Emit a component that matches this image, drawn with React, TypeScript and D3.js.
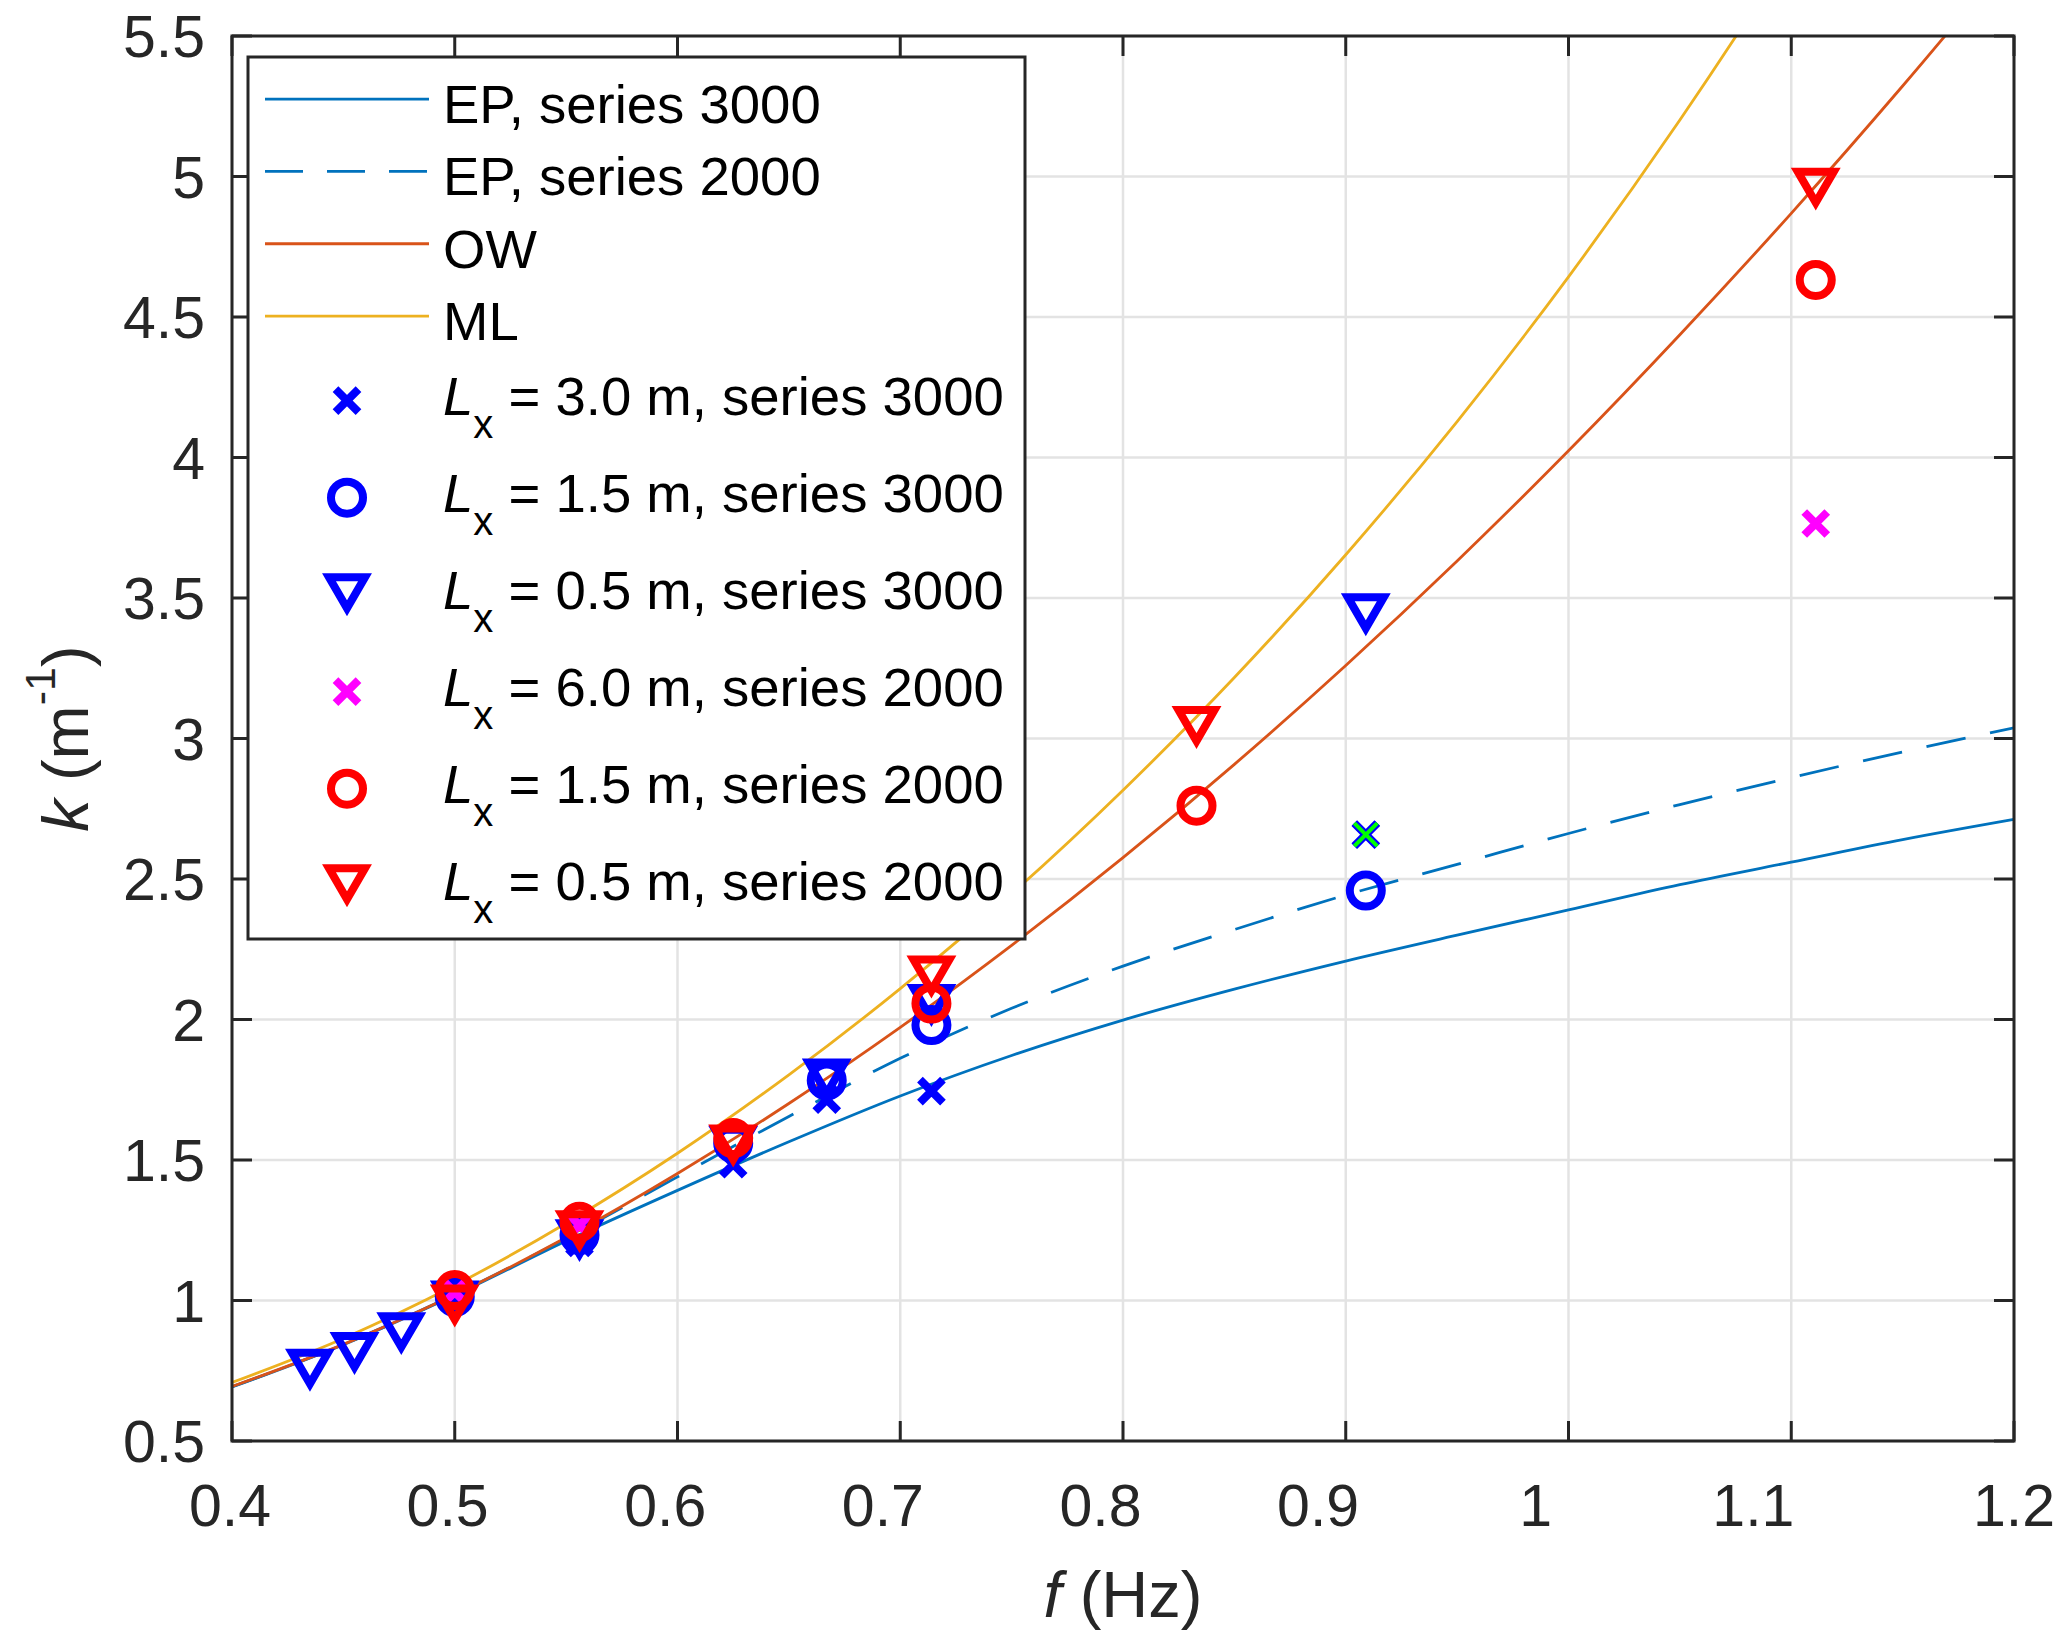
import React, { useEffect, useRef } from "react";
import * as d3 from "d3";

const WIDTH = 2067;
const HEIGHT = 1648;

const xTicks = [0.4, 0.5, 0.6, 0.7, 0.8, 0.9, 1, 1.1, 1.2];
const yTicks = [0.5, 1, 1.5, 2, 2.5, 3, 3.5, 4, 4.5, 5, 5.5];

// dispersion curves, every 0.05 Hz
const fTheory = [0.4, 0.45, 0.5, 0.55, 0.6, 0.65, 0.7, 0.75, 0.8, 0.85, 0.9, 0.95, 1.0, 1.05, 1.1, 1.15, 1.2];
const kEP3000 = [0.692, 0.843, 1.019, 1.212, 1.392, 1.565, 1.728, 1.872, 1.998, 2.108, 2.208, 2.3, 2.39, 2.48, 2.56, 2.64, 2.712];
const kEP2000 = [0.693, 0.844, 1.021, 1.222, 1.44, 1.655, 1.862, 2.04, 2.19, 2.32, 2.443, 2.552, 2.662, 2.765, 2.861, 2.952, 3.038];
const kOW = [0.694, 0.844, 1.021, 1.224, 1.452, 1.701, 1.972, 2.264, 2.576, 2.908, 3.26, 3.632, 4.024, 4.437, 4.869, 5.322, 5.795];
const kML = [0.708, 0.865, 1.054, 1.275, 1.524, 1.803, 2.11, 2.447, 2.816, 3.217, 3.654, 4.128, 4.643, 5.201, 5.805, 6.46, 7.17];

// measured wavenumbers
const fBlueX = [0.5, 0.556, 0.625, 0.667, 0.714, 0.909];
const kBlueX = [1.01, 1.205, 1.485, 1.715, 1.745, 2.658];
const fBlueO = [0.5, 0.556, 0.625, 0.667, 0.714, 0.909];
const kBlueO = [1.013, 1.233, 1.56, 1.783, 1.98, 2.459];
const fBlueV = [0.435, 0.455, 0.476, 0.5, 0.556, 0.625, 0.667, 0.714, 0.909];
const kBlueV = [0.752, 0.811, 0.882, 0.995, 1.213, 1.545, 1.785, 2.05, 3.44];
const fMagX = [0.5, 0.556, 1.111];
const kMagX = [1.03, 1.268, 3.765];
const fRedO = [0.5, 0.556, 0.625, 0.714, 0.833, 1.111];
const kRedO = [1.037, 1.28, 1.578, 2.057, 2.761, 4.632];
const fRedV = [0.5, 0.556, 0.625, 0.714, 0.833, 1.111];
const kRedV = [0.98, 1.245, 1.55, 2.151, 3.039, 4.955];
// extra green cross (not in legend)
const fGreenX = [0.909];
const kGreenX = [2.658];

const lineSeries = [
  { name: "EP, series 3000", k: kEP3000, color: "#0072BD", dash: null as string | null },
  { name: "EP, series 2000", k: kEP2000, color: "#0072BD", dash: "40 25" },
  { name: "OW", k: kOW, color: "#D95319", dash: null },
  { name: "ML", k: kML, color: "#EDB120", dash: null },
];

const markerSeries = [
  { lx: "3.0", series: "3000", f: fBlueX, k: kBlueX, shape: "x", color: "#0000FF" },
  { lx: "1.5", series: "3000", f: fBlueO, k: kBlueO, shape: "o", color: "#0000FF" },
  { lx: "0.5", series: "3000", f: fBlueV, k: kBlueV, shape: "v", color: "#0000FF" },
  { lx: "6.0", series: "2000", f: fMagX, k: kMagX, shape: "x", color: "#FF00FF" },
  { lx: "1.5", series: "2000", f: fRedO, k: kRedO, shape: "o", color: "#FF0000" },
  { lx: "0.5", series: "2000", f: fRedV, k: kRedV, shape: "v", color: "#FF0000" },
];

const FONT = "'Liberation Sans', Arial, Helvetica, sans-serif";
const AXIS_COLOR = "#262626";
const MARKER_WIDTH = 8;

const shapePath = (shape: string) => {
  if (shape === "o") {
    const r = 16;
    return `M${r},0A${r},${r} 0 1,1 ${-r},0A${r},${r} 0 1,1 ${r},0Z`;
  }
  if (shape === "v") return "M-18,-17.5L18,-17.5L0,13.5Z";
  return "M-11.5,-11.5L11.5,11.5M-11.5,11.5L11.5,-11.5";
};

const App: React.FC = () => {
  const svgRef = useRef<SVGSVGElement | null>(null);

  useEffect(() => {
    if (!svgRef.current) return;
    const svg = d3.select(svgRef.current);
    svg.selectAll("*").remove();

    const margin = { top: 36, right: 53, bottom: 207, left: 232 };
    const x = d3.scaleLinear().domain([0.4, 1.2]).range([margin.left, WIDTH - margin.right]);
    const y = d3.scaleLinear().domain([0.5, 5.5]).range([HEIGHT - margin.bottom, margin.top]);

    svg.append("rect").attr("width", WIDTH).attr("height", HEIGHT).style("fill", "#fff");

    svg.append("defs").append("clipPath").attr("id", "plot-clip")
      .append("rect")
      .attr("x", x(0.4)).attr("y", y(5.5))
      .attr("width", x(1.2) - x(0.4)).attr("height", y(0.5) - y(5.5));

    // Grid
    const grid = svg.append("g");
    grid.selectAll(".vgrid").data(xTicks).enter().append("line")
      .attr("x1", d => x(d)).attr("x2", d => x(d))
      .attr("y1", y(0.5)).attr("y2", y(5.5))
      .style("stroke", "#e3e3e3").style("stroke-width", 2.5);
    grid.selectAll(".hgrid").data(yTicks).enter().append("line")
      .attr("y1", d => y(d)).attr("y2", d => y(d))
      .attr("x1", x(0.4)).attr("x2", x(1.2))
      .style("stroke", "#e3e3e3").style("stroke-width", 2.5);

    // Curves
    const line = d3.line<[number, number]>()
      .x(d => x(d[0]))
      .y(d => y(d[1]))
      .curve(d3.curveMonotoneX);

    const curves = svg.append("g").attr("clip-path", "url(#plot-clip)");
    lineSeries.forEach(s => {
      curves.append("path")
        .datum(d3.zip(fTheory, s.k) as [number, number][])
        .attr("d", line)
        .style("fill", "none")
        .style("stroke", s.color)
        .style("stroke-width", 2.8)
        .style("stroke-dasharray", s.dash ?? "none");
    });

    // Markers
    const marks = svg.append("g");
    const drawMarkers = (f: number[], k: number[], shape: string, color: string, width = MARKER_WIDTH) => {
      marks.append("g").selectAll("path")
        .data(d3.zip(f, k))
        .enter()
        .append("path")
        .attr("d", shapePath(shape))
        .attr("transform", d => `translate(${x(d[0])},${y(d[1])})`)
        .style("fill", "none")
        .style("stroke", color)
        .style("stroke-width", width)
        .style("stroke-linejoin", "miter")
        .style("stroke-miterlimit", 4);
    };
    markerSeries.forEach(s => drawMarkers(s.f, s.k, s.shape, s.color));
    drawMarkers(fGreenX, kGreenX, "x", "#0000FF", 7);
    drawMarkers(fGreenX, kGreenX, "x", "#00FF00", 4);

    // Axes box and ticks (inward, all four sides)
    const axes = svg.append("g").style("stroke", AXIS_COLOR).style("stroke-width", 3);
    axes.append("rect")
      .attr("x", x(0.4)).attr("y", y(5.5))
      .attr("width", x(1.2) - x(0.4)).attr("height", y(0.5) - y(5.5))
      .style("fill", "none");
    const tickLen = 20;
    axes.selectAll(".xb").data(xTicks).enter().append("line")
      .attr("x1", d => x(d)).attr("x2", d => x(d))
      .attr("y1", y(0.5)).attr("y2", y(0.5) - tickLen);
    axes.selectAll(".xt").data(xTicks).enter().append("line")
      .attr("x1", d => x(d)).attr("x2", d => x(d))
      .attr("y1", y(5.5)).attr("y2", y(5.5) + tickLen);
    axes.selectAll(".yl").data(yTicks).enter().append("line")
      .attr("y1", d => y(d)).attr("y2", d => y(d))
      .attr("x1", x(0.4)).attr("x2", x(0.4) + tickLen);
    axes.selectAll(".yr").data(yTicks).enter().append("line")
      .attr("y1", d => y(d)).attr("y2", d => y(d))
      .attr("x1", x(1.2)).attr("x2", x(1.2) - tickLen);

    // Tick labels (the source figure's x labels drift slightly left of their ticks)
    const labelX = (v: number) => (v > 1.15 ? x(v) : x(0.4) - 2 + (x(v) - x(0.4)) * 0.977);
    svg.append("g").selectAll("text").data(xTicks).enter().append("text")
      .attr("x", d => labelX(d))
      .attr("y", y(0.5) + 85)
      .attr("text-anchor", "middle")
      .style("font-family", FONT).style("font-size", "59px").style("fill", AXIS_COLOR)
      .text(d => String(d));
    svg.append("g").selectAll("text").data(yTicks).enter().append("text")
      .attr("x", x(0.4) - 27)
      .attr("y", d => y(d))
      .attr("dy", "0.36em")
      .attr("text-anchor", "end")
      .style("font-family", FONT).style("font-size", "59px").style("fill", AXIS_COLOR)
      .text(d => String(d));

    // Axis labels
    const xl = svg.append("text")
      .attr("x", (x(0.4) + x(1.2)) / 2)
      .attr("y", 1617)
      .attr("text-anchor", "middle")
      .style("font-family", FONT).style("font-size", "65px").style("fill", AXIS_COLOR)
      .style("white-space", "pre");
    xl.append("tspan").style("font-style", "italic").text("f");
    xl.append("tspan").text(" (Hz)");

    const yl = svg.append("text")
      .attr("transform", `translate(88,${(y(0.5) + y(5.5)) / 2}) rotate(-90)`)
      .attr("text-anchor", "middle")
      .style("font-family", FONT).style("font-size", "65px").style("fill", AXIS_COLOR)
      .style("white-space", "pre");
    yl.append("tspan").style("font-style", "italic").text("k");
    yl.append("tspan").text(" (m");
    yl.append("tspan").attr("dy", -33).style("font-size", "43px").text("-1");
    yl.append("tspan").attr("dy", 33).text(")");

    // Legend
    const legend = svg.append("g");
    const box = { x: 248, y: 57, w: 777, h: 882 };
    legend.append("rect")
      .attr("x", box.x).attr("y", box.y).attr("width", box.w).attr("height", box.h)
      .style("fill", "#fff").style("stroke", AXIS_COLOR).style("stroke-width", 3);

    const lineRowH = 72.3;
    const markRowH = 97;
    const textX = 443;
    let rowY = box.y + 6 + lineRowH / 2;

    lineSeries.forEach(s => {
      legend.append("line")
        .attr("x1", 265).attr("x2", 429).attr("y1", rowY).attr("y2", rowY)
        .style("stroke", s.color).style("stroke-width", 2.8)
        .style("stroke-dasharray", s.dash ? "38 24" : "none");
      legend.append("text")
        .attr("x", textX).attr("y", rowY + 24)
        .style("font-family", FONT).style("font-size", "54.5px").style("fill", "#000")
        .text(s.name);
      rowY += lineRowH;
    });

    rowY = rowY - lineRowH / 2 + markRowH / 2;
    markerSeries.forEach(s => {
      legend.append("path")
        .attr("d", shapePath(s.shape))
        .attr("transform", `translate(347,${rowY})`)
        .style("fill", "none").style("stroke", s.color).style("stroke-width", MARKER_WIDTH)
        .style("stroke-linejoin", "miter");
      const t = legend.append("text")
        .attr("x", textX).attr("y", rowY + 14)
        .style("font-family", FONT).style("font-size", "54.5px").style("fill", "#000")
        .style("white-space", "pre");
      t.append("tspan").style("font-style", "italic").text("L");
      t.append("tspan").attr("dy", 23).style("font-size", "40px").text("x");
      t.append("tspan").attr("dy", -23).text(` = ${s.lx} m, series ${s.series}`);
      rowY += markRowH;
    });
  }, []);

  return (
    <svg
      ref={svgRef}
      width={WIDTH}
      height={HEIGHT}
      style={{ position: "absolute", left: 0, top: 0, display: "block" }}
    />
  );
};

export default App;
